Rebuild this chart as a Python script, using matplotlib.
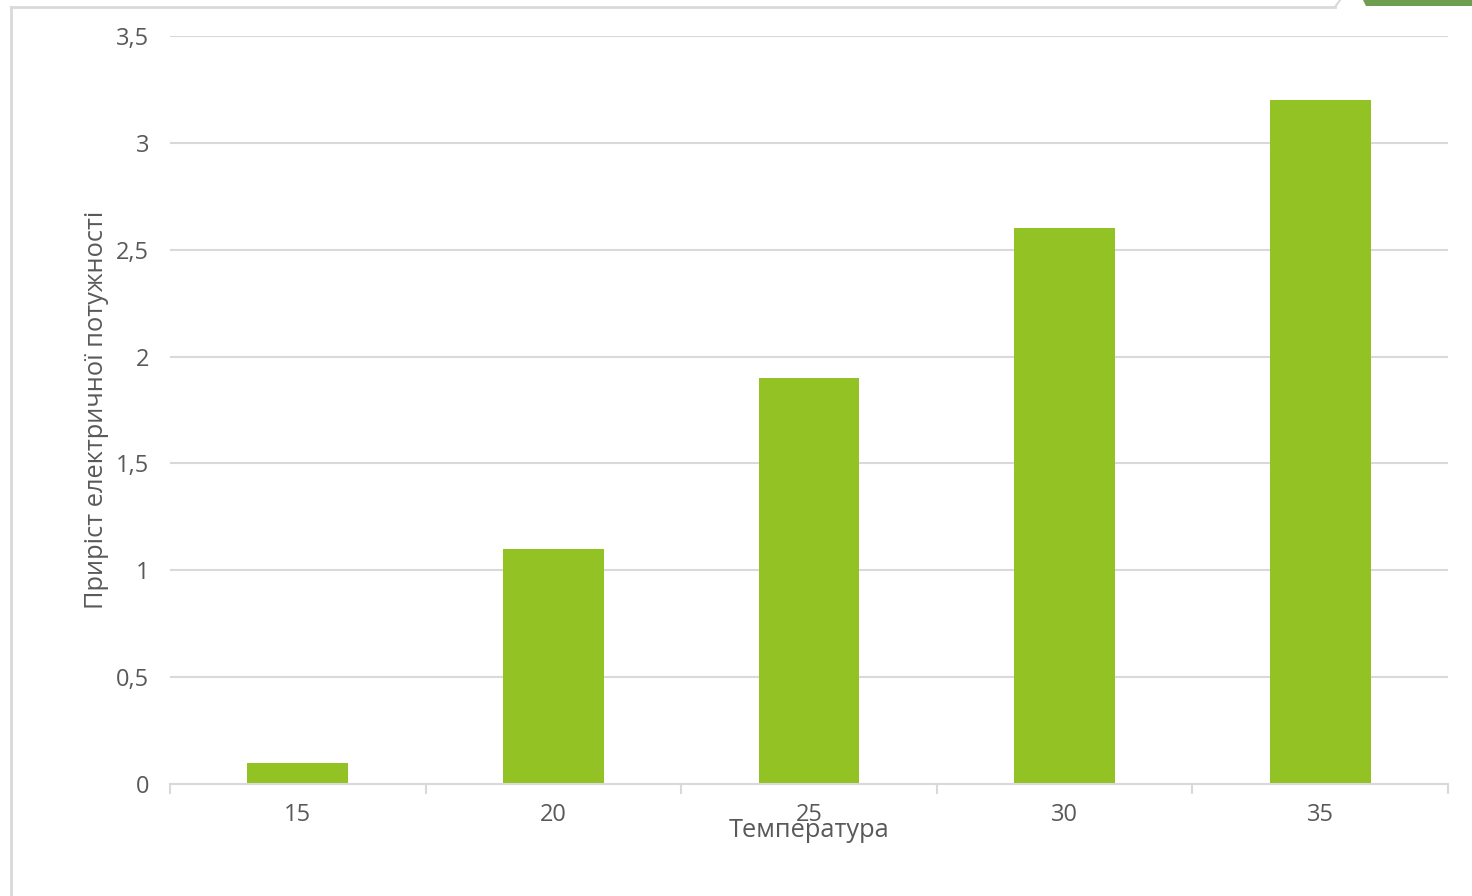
import matplotlib
matplotlib.use("Agg")
import matplotlib.pyplot as plt
from matplotlib.patches import Polygon
from matplotlib.lines import Line2D

# Data
temperatures = ["15", "20", "25", "30", "35"]
power_gain = [0.1, 1.1, 1.9, 2.6, 3.2]
y_ticks = [0, 0.5, 1, 1.5, 2, 2.5, 3, 3.5]
y_tick_labels = ["0", "0,5", "1", "1,5", "2", "2,5", "3", "3,5"]

BAR_COLOR = "#93C225"
GRID_COLOR = "#D9D9D9"
TEXT_COLOR = "#595959"

plt.rcParams["font.family"] = ["Open Sans", "DejaVu Sans"]

fig = plt.figure(figsize=(14.72, 8.96), dpi=100)
ax = fig.add_axes([170 / 1472, 1 - 784 / 896, (1448 - 170) / 1472, (784 - 36) / 896])

x = list(range(len(temperatures)))
ax.bar(x, power_gain, width=0.395, color=BAR_COLOR, zorder=3)

ax.set_xlim(-0.5, len(temperatures) - 0.5)
ax.set_ylim(0, 3.5)
ax.set_yticks(y_ticks)
ax.set_yticklabels(y_tick_labels)
ax.set_xticks(x)
ax.set_xticklabels(temperatures)

# Category separators on the x-axis
ax.set_xticks([i - 0.5 for i in range(len(temperatures) + 1)], minor=True)
ax.tick_params(axis="x", which="major", length=0, pad=14, labelsize=17, labelcolor=TEXT_COLOR)
ax.tick_params(axis="x", which="minor", length=7, width=1.5, color=GRID_COLOR)
ax.tick_params(axis="y", length=0, pad=15, labelsize=17, labelcolor=TEXT_COLOR)

ax.grid(axis="y", color=GRID_COLOR, linewidth=1.5, zorder=0)
for side in ["top", "right", "left"]:
    ax.spines[side].set_visible(False)
ax.spines["bottom"].set_color(GRID_COLOR)
ax.spines["bottom"].set_linewidth(1.5)
ax.spines["bottom"].set_zorder(4)

ax.set_xlabel("Температура", fontsize=18.3, color=TEXT_COLOR, labelpad=-7)
ax.set_ylabel("Приріст електричної потужності", fontsize=18.3, color=TEXT_COLOR, labelpad=5)

# Chart frame
fig.add_artist(Line2D([11 / 1472, 11 / 1472], [0, 1 - 7 / 896], transform=fig.transFigure,
                      color="#D9D9D9", linewidth=2))
fig.add_artist(Line2D([11 / 1472, 1335 / 1472], [1 - 7 / 896, 1 - 7 / 896], transform=fig.transFigure,
                      color="#D9D9D9", linewidth=2))
fig.add_artist(Line2D([1335 / 1472, 1340 / 1472], [1 - 7 / 896, 1], transform=fig.transFigure,
                      color="#D9D9D9", linewidth=1.5))
fig.add_artist(Polygon([[1363 / 1472, 1], [1366 / 1472, 1 - 6 / 896], [1, 1 - 6 / 896], [1, 1]],
                       closed=True, transform=fig.transFigure, facecolor="#6E9E4F", edgecolor="none"))

fig.savefig("out.png", dpi=100, facecolor="white")
